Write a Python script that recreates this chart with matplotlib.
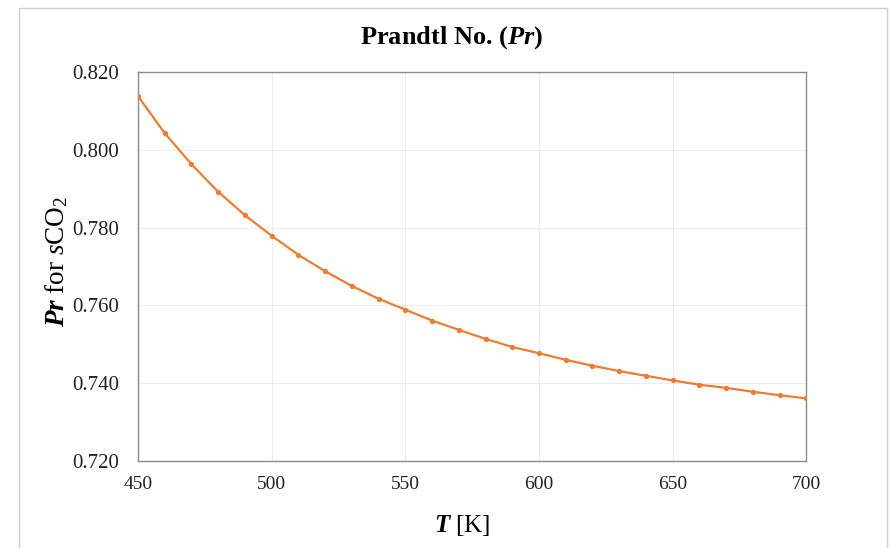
import matplotlib
matplotlib.use("Agg")
import matplotlib.pyplot as plt
from matplotlib.patches import Rectangle

# Temperature [K] and Prandtl number of supercritical CO2
temperature = [450, 460, 470, 480, 490, 500, 510, 520, 530, 540, 550,
               560, 570, 580, 590, 600, 610, 620, 630, 640, 650,
               660, 670, 680, 690, 700]
prandtl = [0.8138, 0.8043, 0.7963, 0.7892, 0.7832, 0.7779, 0.7730, 0.7688,
           0.7650, 0.7617, 0.7589, 0.7561, 0.7537, 0.7514, 0.7493, 0.7477,
           0.7460, 0.7445, 0.7431, 0.7419, 0.7407, 0.7396, 0.7388, 0.7378,
           0.7369, 0.7361]

x_ticks = [450, 500, 550, 600, 650, 700]
y_ticks = [0.720, 0.740, 0.760, 0.780, 0.800, 0.820]

plt.rcParams["font.family"] = ["Liberation Serif", "DejaVu Serif"]
plt.rcParams["mathtext.fontset"] = "custom"
plt.rcParams["mathtext.rm"] = "Liberation Serif"
plt.rcParams["mathtext.it"] = "Liberation Serif:italic"
plt.rcParams["mathtext.bf"] = "Liberation Serif:bold"
plt.rcParams["mathtext.bfit"] = "Liberation Serif:bold:italic"

fig = plt.figure(figsize=(8.9, 5.48), dpi=100)
ax = fig.add_axes([0.155, 0.1588, 0.751, 0.7098])

# chart-area frame
fig.patches.append(Rectangle((19 / 890, -0.05), 868 / 890, 1.05 - 8 / 548,
                             transform=fig.transFigure, fill=False,
                             edgecolor="#D0D0D0", linewidth=1.0))

ax.plot(temperature, prandtl, color="#ED7D31", linewidth=1.6,
        marker="o", markersize=2.8, zorder=3)

ax.set_xlim(450, 700)
ax.set_ylim(0.720, 0.820)
ax.set_xticks(x_ticks)
ax.set_yticks(y_ticks)
ax.set_yticklabels([f"{v:.3f}" for v in y_ticks])
ax.set_xticklabels([str(v) for v in x_ticks])
ax.tick_params(axis="both", length=0, colors="#222222")
ax.tick_params(axis="y", pad=13.7, labelsize=15)
ax.tick_params(axis="x", pad=11, labelsize=14)

ax.grid(True, color="#EEEEEE", linewidth=0.8)
ax.set_axisbelow(True)
for s in ax.spines.values():
    s.set_color("#8C8C8C")
    s.set_linewidth(1.0)

fig.text(452 / 890, 1 - 38 / 548, r"Prandtl No. ($\mathbfit{Pr}$)",
         ha="center", va="center", fontsize=19, fontweight="bold", color="#000000")
fig.text(462 / 890, 1 - 525 / 548, r"$\mathbfit{T}$ [K]", ha="center", va="center",
         fontsize=18, color="#000000")
fig.text(57 / 890, 1 - 261 / 548, r"$\mathbfit{Pr}$ for $\mathit{s}$CO$_{\mathregular{2}}$",
         ha="center", va="center", rotation=90, fontsize=19.5, color="#000000")

fig.savefig("out.png", dpi=100)
